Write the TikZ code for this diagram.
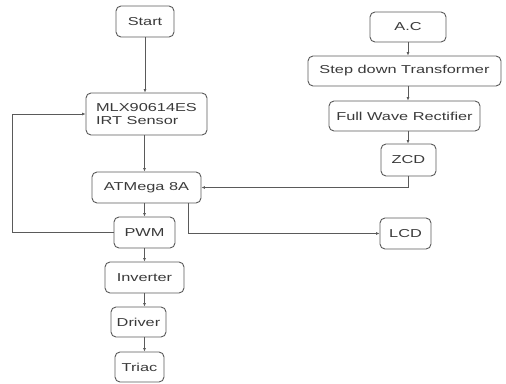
\documentclass[tikz,border=0pt]{standalone}
\usepackage{fontspec}
\newfontfamily\blockfont{Liberation Sans}[FakeStretch=1.42]
\usetikzlibrary{arrows.meta,positioning}
\definecolor{linegray}{HTML}{5A5A5A}
\definecolor{textgray}{HTML}{3A3A3A}

\begin{document}
\begin{tikzpicture}[
  x=1pt, y=-1pt,
  blk/.style={
    rectangle, rounded corners=5pt,
    draw=linegray, line width=0.9pt, fill=white,
    text=textgray, align=left,
    font=\blockfont\fontsize{11.5}{13.5}\selectfont,
    minimum height=31pt, inner sep=0pt
  },
  arr/.style={-{Latex[length=3.5pt,width=3pt]}, linegray, line width=0.9pt},
  wire/.style={linegray, line width=0.9pt},
]
\useasboundingbox (0,0) rectangle (506,383);

% Main column
\node[blk, minimum width=58pt] (start) at (145,21.5) {Start};
\node[blk, minimum width=121pt, minimum height=42pt] (sensor) at (146.5,114) {MLX90614ES\\IRT Sensor};
\node[blk, minimum width=109pt] (mcu) at (146.5,187.5) {ATMega 8A};
\node[blk, minimum width=61pt] (pwm) at (144.5,232.5) {PWM};
\node[blk, minimum width=79pt] (inv) at (144.5,277.5) {Inverter};
\node[blk, minimum width=55pt, minimum height=30pt] (drv) at (138.5,322) {Driver};
\node[blk, minimum width=49pt, minimum height=30pt] (triac) at (139.5,367) {Triac};

% Supply column
\node[blk, minimum width=76pt, minimum height=30pt] (ac) at (408,27) {A.C};
\node[blk, minimum width=193pt, minimum height=30pt] (trafo) at (404.5,71) {Step down Transformer};
\node[blk, minimum width=151pt, minimum height=30pt] (rect) at (404.5,116) {Full Wave Rectifier};
\node[blk, minimum width=55pt, minimum height=32pt] (zcd) at (408.5,160) {ZCD};

% Display
\node[blk, minimum width=51pt] (lcd) at (405.5,233.5) {LCD};

% Arrows
\draw[arr] (start.south) -- (start.south |- sensor.north);
\draw[arr] (sensor.south -| pwm.south) -- (mcu.north -| pwm.south);
\draw[arr] (mcu.south -| pwm.north) -- (pwm.north);
\draw[arr] (pwm.south) -- (pwm.south |- inv.north);
\draw[arr] (inv.south) -- (inv.south |- drv.north);
\draw[arr] (drv.south -| inv.south) -- (triac.north -| inv.south);

\draw[arr] (ac.south) -- (ac.south |- trafo.north);
\draw[arr] (trafo.south -| ac.south) -- (rect.north -| ac.south);
\draw[arr] (rect.south -| ac.south) -- (zcd.north -| ac.south);

% Feedback and side paths
\coordinate (fb) at (12,232.5);
\draw[wire] (pwm.west) -- (fb);
\draw[arr] (fb) |- (sensor.west);
\draw[arr] (zcd.south) |- (mcu.east);
\draw[arr] ([xshift=-13pt]mcu.south east) |- (lcd.west);

\end{tikzpicture}
\end{document}
